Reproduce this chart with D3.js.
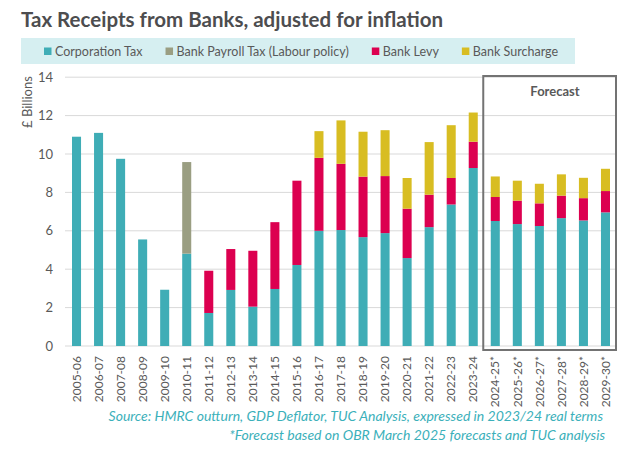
<!DOCTYPE html>
<html>
<head>
<meta charset="utf-8">
<script src="https://cdn.jsdelivr.net/npm/d3@7"></script>
<style>
  body { margin: 0; background: #fff; }
  text { font-family: Lato, "Open Sans", sans-serif; }
</style>
</head>
<body>
<svg id="chart" width="643" height="463"></svg>
<script>
// years on the x axis, * marks the OBR based forecast
const years = ['2005-06','2006-07','2007-08','2008-09','2009-10','2010-11','2011-12','2012-13',
    '2013-14','2014-15','2015-16','2016-17','2017-18','2018-19','2019-20','2020-21','2021-22',
    '2022-23','2023-24','2024-25*','2025-26*','2026-27*','2027-28*','2028-29*','2029-30*'];

// £ billions, 2023/24 prices
const corporationTax = [10.9, 11.1, 9.75, 5.55, 2.93, 4.81, 1.72, 2.92, 2.05, 2.97, 4.22, 6.0, 6.04,
    5.67, 5.88, 4.58, 6.19, 7.37, 9.27, 6.51, 6.35, 6.25, 6.66, 6.54, 6.96];
const bankPayrollTax = [0, 0, 0, 0, 0, 4.77, 0, 0, 0, 0, 0, 0, 0, 0, 0, 0, 0, 0, 0, 0, 0, 0, 0, 0, 0];
const bankLevy = [0, 0, 0, 0, 0, 0, 2.2, 2.13, 2.91, 3.48, 4.39, 3.8, 3.45, 3.15, 2.97, 2.57, 1.69,
    1.38, 1.37, 1.25, 1.22, 1.18, 1.17, 1.16, 1.11];
const bankSurcharge = [0, 0, 0, 0, 0, 0, 0, 0, 0, 0, 0, 1.39, 2.26, 2.34, 2.39, 1.6, 2.74, 2.75,
    1.52, 1.07, 1.04, 1.02, 1.11, 1.06, 1.16];

const seriesNames = ['Corporation Tax', 'Bank Payroll Tax (Labour policy)', 'Bank Levy', 'Bank Surcharge'];
const seriesColors = ['#3fadb6', '#9a9e82', '#dc0050', '#d8bd22'];
const yTicks = [0, 2, 4, 6, 8, 10, 12, 14];
const forecastYears = years.filter(y => y.endsWith('*'));

const svg = d3.select('#chart');

// title
svg.append('text')
    .attr('x', 21).attr('y', 27)
    .style('font-size', '20.5px').style('font-weight', 'bold')
    .style('fill', '#4d4d4f')
    .text('Tax Receipts from Banks, adjusted for inflation');

// legend strip
const legend = svg.append('g');
legend.append('rect')
    .attr('x', 21).attr('y', 38).attr('width', 554).attr('height', 26)
    .attr('fill', '#d6eff1');

var lx = 44;
seriesNames.forEach(function(name, i) {
    legend.append('rect')
        .attr('x', lx).attr('y', 47.5).attr('width', 7.5).attr('height', 7.5)
        .attr('fill', seriesColors[i]);
    var t = legend.append('text')
        .attr('x', lx + 11).attr('y', 55.5)
        .style('font-size', '12.5px').style('fill', '#595959')
        .text(name);
    lx = lx + 11 + t.node().getComputedTextLength() + 23;
});

// scales
const x = d3.scaleBand().domain(years).range([65.5, 616.5]).paddingInner(0.59).paddingOuter(0.295);
const y = d3.scaleLinear().domain([0, 14]).range([346, 77.2]);

// grid
svg.append('g')
    .selectAll('line')
    .data(yTicks)
    .join('line')
    .attr('x1', 65).attr('x2', 617)
    .attr('y1', d => y(d)).attr('y2', d => y(d))
    .attr('stroke', '#d9d9d9').attr('stroke-width', 1);

// y axis
const yAxis = svg.append('g')
    .attr('transform', 'translate(53,0)')
    .call(d3.axisLeft(y).tickValues(yTicks).tickSize(0).tickPadding(0));
yAxis.select('.domain').remove();
yAxis.selectAll('text')
    .style('font-size', '13px').style('fill', '#595959')
    .style('font-family', 'Lato, sans-serif');

svg.append('text')
    .attr('transform', 'translate(32,102) rotate(-90)')
    .attr('text-anchor', 'middle')
    .style('font-size', '13px').style('fill', '#595959')
    .text('£ Billions');

// stacked bars
const rows = years.map(function(yr, i) {
    return {year: yr, ct: corporationTax[i], bpt: bankPayrollTax[i], levy: bankLevy[i], sur: bankSurcharge[i]};
});
const stack = d3.stack().keys(['ct', 'bpt', 'levy', 'sur'])(rows);

svg.append('g')
    .selectAll('g')
    .data(stack)
    .join('g')
    .attr('fill', (d, i) => seriesColors[i])
    .selectAll('rect')
    .data(d => d.filter(p => p[1] - p[0] > 0))
    .join('rect')
    .attr('x', d => x(d.data.year))
    .attr('width', x.bandwidth())
    .attr('y', d => y(d[1]))
    .attr('height', d => y(d[0]) - y(d[1]));

// x axis
const xAxis = svg.append('g')
    .attr('transform', 'translate(0,346)')
    .call(d3.axisBottom(x).tickSize(0).tickPadding(0));
xAxis.select('.domain').remove();
xAxis.selectAll('text')
    .attr('transform', 'rotate(-90)')
    .attr('text-anchor', 'end')
    .attr('x', -10).attr('y', 0).attr('dy', '0.35em')
    .style('font-size', '12px').style('fill', '#595959')
    .style('font-family', 'Lato, sans-serif');

// forecast box
const fx0 = x(forecastYears[0]) - (x.step() - x.bandwidth()) / 2 - 1;
const fx1 = 616;
svg.append('rect')
    .attr('x', fx0).attr('y', 76).attr('width', fx1 - fx0).attr('height', 274)
    .attr('fill', 'none').attr('stroke', '#737373').attr('stroke-width', 2);
svg.append('text')
    .attr('x', 555).attr('y', 96)
    .attr('text-anchor', 'middle')
    .style('font-size', '13px').style('font-weight', 'bold').style('fill', '#595959')
    .text('Forecast');

// source notes
svg.append('text')
    .attr('x', 603).attr('y', 421)
    .attr('text-anchor', 'end')
    .style('font-size', '14px').style('font-style', 'italic').style('fill', '#3bb0ba')
    .text('Source: HMRC outturn, GDP Deflator, TUC Analysis, expressed in 2023/24 real terms');
svg.append('text')
    .attr('x', 605).attr('y', 440)
    .attr('text-anchor', 'end')
    .style('font-size', '14px').style('font-style', 'italic').style('fill', '#3bb0ba')
    .text('*Forecast based on OBR March 2025 forecasts and TUC analysis');
</script>
</body>
</html>
